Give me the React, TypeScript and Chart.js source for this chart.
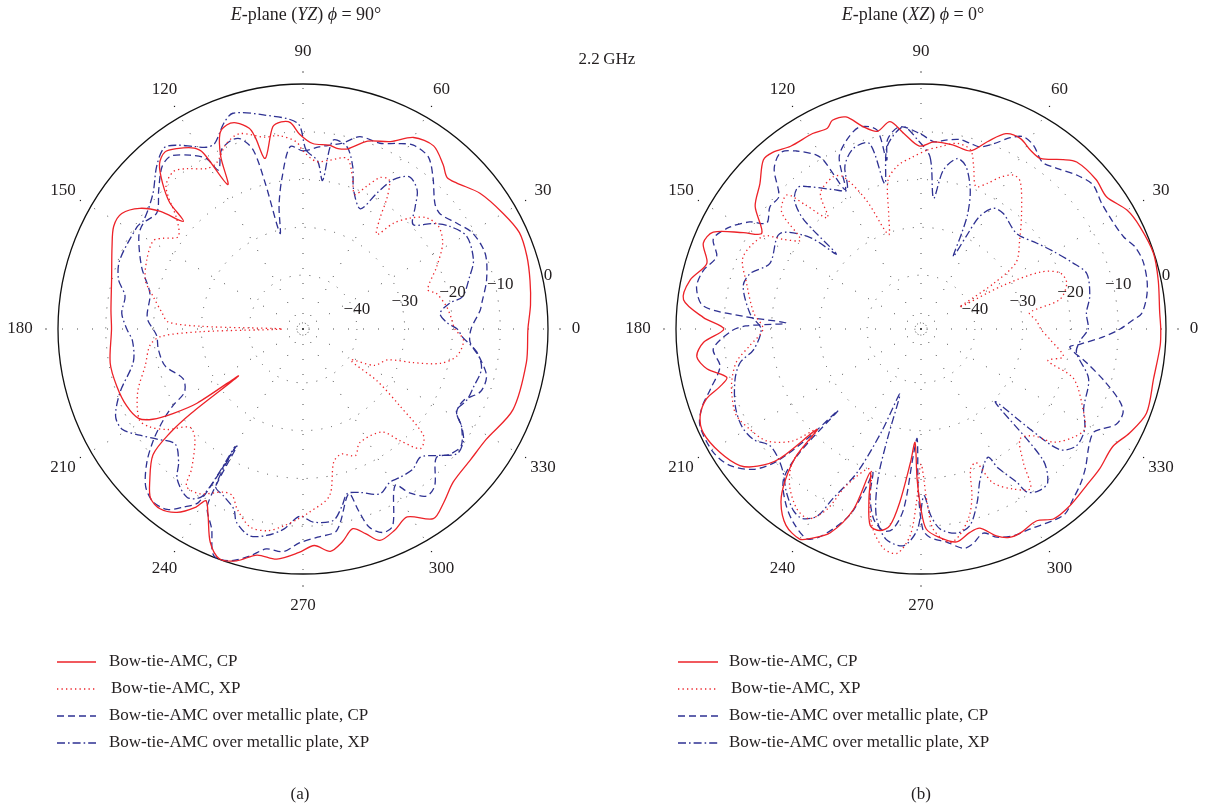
import React, { useEffect, useRef } from 'react';
import { Chart, registerables } from 'chart.js';

Chart.register(...registerables);

const FONT = "'Liberation Serif', 'DejaVu Serif', serif";
const INK = '#231f20';
const RED = 'rgb(237,34,40)';
const BLUE = 'rgb(46,49,146)';
const GRID = '#4a4a4a';

const DB_MIN = -51.28;
const DB_MAX = 0;
const RING_VALUES = [-50, -40, -30, -20, -10, 0];
const RING_LABEL_VALUES = [-40, -30, -20, -10, 0];
const RING_LABELS = ['\u221240', '\u221230', '\u221220', '\u221210', '0'];
const ANGLE_TICKS = [0, 30, 60, 90, 120, 150, 180, 210, 240, 270, 300, 330];
const SERIES_LABELS = [
  'Bow-tie-AMC, CP',
  'Bow-tie-AMC, XP',
  'Bow-tie-AMC over metallic plate, CP',
  'Bow-tie-AMC over metallic plate, XP',
];
const SERIES_COLORS = [RED, RED, BLUE, BLUE];
const SERIES_DASHES = [[], [1.3, 3.2], [7, 4], [8, 3, 1.6, 3]];

const STEP = 0.5;
const N = 720;
const ANGLE_CATEGORIES = Array.from({ length: N }, (_, j) => String(((90 - j * STEP) % 360 + 360) % 360));

// ---- Panel (a): E-plane (YZ), phi = 90 deg. [angle deg, level dB]
const A_CP: [number, number][] = [
  [0, -4.2], [6, -3.4], [12, -2.7], [18, -2.0], [24, -1.7], [30, -2.9], [37.5, -4.6], [43.5, -6.9], [46.5, -7.5],
  [49.5, -6.1], [54.5, -4.2], [60, -5.0], [65, -8.0], [71, -9.7], [76, -12.4], [79, -12.8], [82, -12.4], [87, -12.4],
  [91, -10.5], [93.5, -8.0], [96, -7.7], [98.5, -8.5], [102.5, -14.7], [104, -9.9], [105, -7.8], [108, -5.9],
  [110.5, -5.7], [113, -6.8], [115.5, -11.3], [117.5, -17.2], [119.5, -9.0], [121, -7.1], [125, -5.2], [128, -4.3],
  [131, -5.5], [134, -9.0], [136.5, -12.8], [138, -17.6], [140.5, -12.6], [143.5, -8.8], [147.5, -6.3], [151.5, -6.2],
  [156.5, -7.7], [165.5, -9.9], [174.5, -10.9], [180, -11.2], [190, -10.3], [197, -10.5], [203.5, -11.0],
  [208.5, -12.1], [211, -14.6], [213, -18.8], [215, -24.2], [216, -34.6], [217, -22], [218, -16], [220, -10.3],
  [225, -5.9], [228, -3.6], [231.5, -3.2], [235.5, -4.7], [239, -7.8], [240.5, -10.0], [243, -7.5], [246.5, -2.6],
  [250, -0.1], [254, -0.8], [258.5, -3.0], [263.5, -2.8], [269, -4.5], [273, -5.9], [277, -4.4], [280.5, -6.0],
  [284, -8.2], [287, -6.5], [290, -4.2], [294.5, -5.0], [299, -6.3], [304.5, -3.1], [309, -4.5], [314.5, -6.4],
  [322, -6.8], [329, -6.5], [339, -4.2], [351.5, -4.0],
];
const A_XP: [number, number][] = [
  [0, -19.5], [4.5, -20.2], [9, -20.9], [15, -22.4], [17.5, -23.9], [25, -20.4], [31.5, -17.0], [37, -15.7],
  [42, -16.5], [46, -19.0], [49.5, -22.2], [52, -26.2], [55, -23.4], [57.5, -18.4], [60, -15.2], [63, -15.7],
  [66, -18.6], [69, -21.1], [72, -17.8], [75.5, -14.4], [81, -15.5], [85.5, -16.1], [90, -14], [92, -12.1],
  [97, -10.5], [101.5, -10.3], [108, -8.3], [112.5, -9.3], [117.5, -12.1], [121, -12.1], [126, -9.8], [129.5, -8.6],
  [134, -10.0], [139, -16.3], [143.5, -18.8], [147, -16.4], [149.5, -14.9], [156, -15.5], [163, -16.8], [168, -19.3],
  [173.5, -21.6], [177, -23], [178.5, -30], [180, -47], [181.5, -30], [183, -21.5], [186, -19.1], [193, -17.4],
  [201, -14.2], [209, -12.1], [212.5, -13.2], [216.5, -15.9], [221, -19.9], [225.5, -19.0], [231.5, -13.8],
  [233.5, -10.3], [238, -10.6], [244, -13.3], [247, -13.4], [250, -11.1], [255, -8.4], [260, -8.4], [264.5, -9.9],
  [268.5, -11.5], [272, -12.9], [279, -15.9], [283, -22.7], [287, -23.9], [292.5, -22.6], [296.5, -24.7],
  [307.5, -24.1], [311, -20.3], [314.5, -16.2], [318.5, -17.6], [321.5, -25.3], [325, -32.4], [327, -39.4],
  [333, -34.5], [340, -32.4], [343, -27.2], [346, -21.6], [350, -18.6], [356, -17.6],
];
const A_MCP: [number, number][] = [
  [0, -16.1], [6, -14.0], [8.5, -13.4], [15, -11.5], [22.5, -10.0], [29.5, -10.5], [34.5, -12.2], [40, -13.8],
  [43.5, -13.2], [49.5, -9.4], [54, -6.7], [59, -6.4], [63, -7.7], [67.5, -9.2], [73.5, -9.3], [78, -11.5],
  [85, -13.0], [90, -14.0], [94, -13.0], [98, -19.5], [101, -25], [103.5, -30.7], [104.5, -20], [105.5, -12.5],
  [108, -9.5], [110.5, -9.0], [114.5, -10.1], [118, -13.6], [119.5, -10.3], [123, -7.9], [127.5, -5.7], [131, -6.3],
  [136, -9.3], [141.5, -12.2], [146.5, -11.2], [150.5, -11.8], [159, -15.1], [167, -18.4], [176, -18.6],
  [182.5, -20.6], [188, -20.7], [195, -21.4], [202.5, -24.1], [208, -23.2], [210.5, -19.7], [213, -16.5],
  [216.5, -12.4], [220.5, -8.3], [225, -4.7], [229, -3.4], [233, -4.0], [236, -6.3], [239, -9.1], [240.5, -23.2],
  [241.5, -9.4], [245.5, -5.2], [248.5, -0.3], [252.5, -0.4], [257, -2.6], [260.5, -4.6], [265, -4.5], [269, -6.5],
  [274, -7.6], [279.5, -8.5], [285.5, -15.5], [287, -11.5], [288.5, -7.5], [291.5, -5.5], [294.5, -6.0],
  [300.5, -13.3], [303, -10.4], [306.5, -7.8], [310, -8.4], [316, -12.5], [319.5, -10.9], [323.5, -10.1],
  [328.5, -12.4], [331.5, -14.7], [336, -14.5], [340.5, -11.9], [345.5, -11.6], [350.5, -13.7], [355.5, -16.2],
];
const A_MXP: [number, number][] = [
  [0, -19.0], [2.5, -21.1], [6.5, -22.4], [10, -20.1], [11.5, -17.2], [17.5, -14.7], [22, -12.8], [29.5, -11.9],
  [35, -13.8], [39, -16.2], [43.5, -19.5], [47.5, -16.5], [50.5, -13.7], [55, -12.4], [59, -14.9], [61.5, -19.0],
  [64.5, -23.4], [70, -20.3], [73, -15.7], [76.5, -12.0], [81, -11.3], [82.5, -19.9], [85, -16], [89, -13.8],
  [91.5, -8.2], [100.5, -5.7], [108, -3.8], [111, -5.1], [115.5, -8.3], [118, -8.2], [121, -6.7], [124.5, -4.6],
  [127.5, -3.5], [132, -5.5], [138, -9.0], [145.5, -10.9], [148.5, -10.5], [159.5, -10.3], [165, -11.3],
  [169.5, -13.4], [175, -13.2], [180, -14.4], [184, -15.5], [191, -15.1], [199, -10.8], [205, -8.0], [209, -8.0],
  [213, -10.5], [217, -13.0], [222, -15.3], [227, -13.1], [230, -10.3], [235.5, -8.5], [239, -10.5], [240, -22.8],
  [241, -13.6], [244.5, -12.6], [249, -10.9], [251, -8.5], [255.5, -6.6], [260, -7.4], [264.5, -9.2], [269, -12.1],
  [273, -10.8], [279, -10.7], [282.5, -13.4], [285, -15.6], [289, -15.1], [295, -13.2], [299.5, -14.4],
  [303, -14.2], [308, -14.0], [312.5, -14.9], [316.5, -12.8], [321, -9.8], [325, -10.3], [328, -12.0], [332, -14.9],
  [336.5, -13.9], [341, -13.6], [347.5, -13.0], [352.5, -14.6], [357, -17.8],
];

// ---- Panel (b): E-plane (XZ), phi = 0 deg.
const B_CP: [number, number][] = [
  [0, -1.1], [4, -1.2], [11.5, -0.6], [18, -0.1], [25, -0.7], [30, -1.5], [35.5, -3.6], [40.5, -3.1], [47, -3.5],
  [50, -5.0], [55, -7.7], [58.5, -7.4], [62.5, -6.3], [66.5, -6.7], [70.5, -9.7], [74.5, -12.6], [80, -12.2],
  [86, -12.0], [90.5, -13.0], [95, -10.2], [98.5, -7.4], [102.5, -8.9], [106, -7.2], [109.5, -4.2], [113, -3.8],
  [115, -4.9], [119, -4.5], [125.5, -4.3], [130, -3.0], [133, -2.9], [138, -5.9], [143.5, -8.1], [149, -12.4],
  [151.5, -9.0], [155, -3.3], [158.5, -2.3], [163, -4.4], [168, -1.9], [173, -1.2], [177, -5.7], [180, -10.0],
  [183.5, -5.7], [187, -4.0], [190.5, -5.7], [194, -9.4], [196, -7.5], [198, -4.1], [201.5, -1.6], [205.5, -0.8],
  [211.5, -1.9], [217, -3.8], [220, -6.6], [222.5, -11.1], [224, -21.0], [225.5, -14.1], [228, -8.9], [231, -4.7],
  [235.5, -1.4], [240, -0.5], [242, -1.6], [246, -4.6], [249.5, -11.0], [250.5, -19.4], [253, -14.0], [255.5, -8.8],
  [258.5, -8.2], [261, -9.6], [263, -14.7], [265.5, -23.3], [267, -27.5], [268.5, -19.9], [270, -13.6],
  [271.5, -9.4], [275, -7.5], [279.5, -6.1], [283.5, -7.5], [286.5, -7.8], [290, -5.2], [293, -3.9], [296, -3.8],
  [301, -4.4], [305, -2.8], [310, -2.9], [316.5, -3.6], [322, -3.8], [328.5, -4.2], [333.5, -2.5], [339.5, -0.9],
  [348, -1.5], [356, -1.1],
];
const B_XP: [number, number][] = [
  [0, -26.2], [4, -27], [8.5, -28.3], [12, -21.6], [17.5, -19.3], [22, -19.9], [25.5, -23.6], [28, -32],
  [29.5, -42], [32, -33.5], [35, -27], [42, -23.5], [49, -19.2], [56, -14.1], [59, -13.7], [62.5, -15.5],
  [65.5, -17.8], [69, -19.3], [72, -15.6], [74.5, -12.4], [79, -11.7], [84, -12.9], [88, -13.8], [93, -15.3],
  [98, -16.7], [102.5, -19.4], [106, -26.8], [109, -30.4], [113, -22], [117, -15.5], [120, -14.5], [126.5, -15.9],
  [130, -20.9], [133, -15.7], [135, -11.6], [140, -13.2], [143.5, -19.9], [147, -16.8], [149.5, -13.0],
  [158, -11.1], [165.5, -13.6], [174.5, -16.1], [180, -18.2], [185.5, -15.3], [190, -12.1], [195, -10.3],
  [199.5, -9.3], [205, -8.6], [210.5, -9.8], [216, -11.4], [221, -15.5], [224, -21.0], [226, -12.6], [230, -8.5],
  [235.5, -5.5], [239.5, -5.2], [242.5, -8.8], [244.5, -15.0], [250, -20.1], [253.5, -13.5], [256.5, -8.2],
  [260.5, -4.6], [264, -4.1], [267, -8.0], [268.5, -15.0], [270, -23.0], [272, -15.0], [273.5, -9.3], [277.5, -6.2],
  [280.5, -7.3], [284.5, -10.9], [287, -14.8], [289.5, -20.2], [292.5, -21.0], [295, -15.8], [300, -12.6],
  [304.5, -10.8], [307.5, -16.1], [312, -20.3], [316.5, -18.8], [319.5, -14.8], [324.5, -12.2], [328.5, -11.1],
  [333, -13.1], [342, -17.7], [346, -23.9], [349, -20.9], [355, -24],
];
const B_MCP: [number, number][] = [
  [0, -9.6], [2.5, -6.8], [4, -5.0], [8, -3.6], [12, -2.9], [17, -2.7], [21, -3.3], [24.5, -4.7], [29.5, -5.3],
  [35, -5.2], [40, -4.3], [44.5, -5.4], [50, -7.3], [54, -8.1], [58.5, -6.2], [62, -5.7], [65, -7.1], [68.5, -9.6],
  [72, -11.2], [75, -11.1], [78.5, -10.8], [82.5, -11.4], [86, -12.0], [90, -10.5], [96, -8.7], [100, -11],
  [101.5, -15.2], [102.5, -8.6], [107, -7.1], [111.5, -8.8], [115.5, -11.5], [118.5, -18.1], [120, -10.5],
  [121, -8.8], [125, -5.8], [128.5, -4.1], [132.5, -5.8], [137, -10.6], [141, -10.6], [145.5, -12.1], [148, -9.0],
  [152, -5.9], [156.5, -3.9], [160.5, -5.9], [165, -4.1], [169.5, -3.5], [174, -5.5], [176, -14.6], [177.5, -23.0],
  [179, -14.6], [180.5, -11.7], [185.5, -7.6], [190.5, -8.5], [196, -5.4], [199.5, -2.7], [203.5, -0.8],
  [210.5, -0.7], [215.5, -2.1], [220, -5.6], [222.5, -10.2], [224, -18.6], [224.5, -27.0], [225.5, -15.1],
  [227.5, -8.7], [232, -5.2], [236.5, -2.8], [241.5, -1.3], [244.5, -3.4], [249, -9.5], [251, -16.6],
  [251.5, -19.6], [253, -14.8], [256, -10.3], [259.5, -8.3], [262, -9.0], [264.5, -13.4], [266.5, -24.7],
  [268, -28.3], [269, -17.8], [270.5, -9.4], [272.5, -7.6], [277, -6.3], [281, -4.5], [283.5, -5.0], [287, -6.6],
  [290, -4.9], [294, -3.9], [298.5, -3.6], [307.5, -2.2], [312, -3.6], [316, -4.8], [320, -6.3], [325, -8.4],
  [329, -9.2], [331, -8.1], [334, -5.8], [337.5, -5.5], [340, -7.0], [344, -11.2], [348.5, -15.9], [353, -19.9],
  [354.5, -17.9], [357.5, -13.1],
];
const B_MXP: [number, number][] = [
  [0, -16.3], [5.5, -16.5], [11, -15.3], [18.5, -14.7], [23.5, -16.6], [30.5, -19.2], [36.5, -21.1], [45, -23.0],
  [54.5, -21.6], [59, -21.8], [62.5, -24.7], [64, -29.7], [66, -34.7], [67, -29.4], [68, -25.1], [70.5, -20.4],
  [74.5, -16.0], [78, -14.8], [82, -17.7], [84.5, -23.8], [87, -15.2], [91, -11.7], [95, -8.8], [100.5, -12.4],
  [104, -19.9], [105.5, -11.0], [110.5, -10.9], [115, -13.6], [118, -18.3], [122, -16.9], [128, -13.5],
  [131, -12.0], [134.5, -13.5], [137, -17.7], [138.5, -27.6], [140.5, -21.1], [146, -15.6], [156.5, -16.8],
  [162, -13.7], [166.5, -13.0], [175, -15.4], [180, -17.8], [187, -16.0], [190.5, -12.8], [195, -11.0],
  [202.5, -9.2], [208.5, -8.6], [213.5, -9.3], [217.5, -11.3], [221.5, -11.1], [226, -9.7], [230.5, -7.0],
  [235, -4.8], [238, -4.5], [241, -6.5], [242.5, -11.2], [246, -18.4], [249, -28.3], [252, -37.0], [253, -27.2],
  [254, -18.6], [256.5, -11.1], [260.5, -6.7], [265.5, -5.8], [269, -9.4], [271, -16.4], [273, -12.2],
  [275.5, -9.2], [280, -7.9], [284, -8.9], [288, -13.2], [291.5, -17.5], [297.5, -21.0], [299, -18.0], [302, -13.5],
  [303, -10.6], [306, -9.4], [309.5, -9.6], [313, -13.9], [315.5, -29.5], [317.5, -19.9], [319, -12.8],
  [323, -10.6], [328.5, -11.1], [334, -13.4], [343.5, -14.7], [351.5, -18.4], [356, -17.8],
];

type TitlePart = [string, boolean];

const PANELS = [
  {
    key: 'a', left: 0, width: 650, cx: 303, cy: 329, titleX: 306,
    title: [['E', true], ['-plane (', false], ['YZ', true], [') ', false], ['\u03D5', true], [' = 90\u00B0', false]] as TitlePart[],
    series: [A_CP, A_XP, A_MCP, A_MXP], note: '2.2\u2009GHz', noteX: 607, noteY: 60,
    legendLine: [57, 96], legendText: 109, caption: '(a)', captionX: 300,
  },
  {
    key: 'b', left: 606, width: 605, cx: 921, cy: 329, titleX: 913,
    title: [['E', true], ['-plane (', false], ['XZ', true], [') ', false], ['\u03D5', true], [' = 0\u00B0', false]] as TitlePart[],
    series: [B_CP, B_XP, B_MCP, B_MXP], note: '', noteX: 0, noteY: 0,
    legendLine: [678, 718], legendText: 729, caption: '(b)', captionX: 921,
  },
];
const LEGEND_ROWS = [662, 689, 716, 743];
const RADIUS = 245;

function toRadar(points: [number, number][]) {
  const arr: (number | null)[] = new Array(N).fill(null);
  for (const [deg, db] of points) {
    const j = Math.round((((90 - deg) % 360) + 360) % 360 / STEP) % N;
    arr[j] = db;
  }
  return arr;
}

function angleIndex(a: number) {
  return Math.round((((90 - a) % 360) + 360) % 360 / STEP) % N;
}

function PolarPanel({ panel }: { panel: (typeof PANELS)[number] }) {
  const ref = useRef<HTMLCanvasElement>(null);
  useEffect(() => {
    const H = 807;
    const lx = panel.cx - panel.left;
    const pad = {
      left: lx - RADIUS,
      right: panel.width - (lx + RADIUS),
      top: panel.cy - RADIUS,
      bottom: H - (panel.cy + RADIUS),
    };
    const off = panel.left;
    const decor = {
      id: 'polarDecor',
      afterDraw(chart: any) {
        const ctx = chart.ctx as CanvasRenderingContext2D;
        const s: any = chart.scales.r;
        ctx.save();
        ctx.fillStyle = INK;
        ctx.font = `17px ${FONT}`;
        ctx.textAlign = 'center';
        ctx.textBaseline = 'middle';
        for (const a of ANGLE_TICKS) {
          const dist = s.drawingArea + 32 + (a === 0 ? -4 : a === 180 ? 6 : 0);
          const p = s.getPointPosition(angleIndex(a), dist);
          ctx.fillText(String(a), p.x, p.y);
          const q = s.getPointPosition(angleIndex(a), s.drawingArea + 12);
          ctx.fillRect(q.x - 0.6, q.y - 0.6, 1.2, 1.2);
        }
        RING_LABEL_VALUES.forEach((v, i) => {
          const d = s.getDistanceFromCenterForValue(v);
          ctx.fillText(RING_LABELS[i], s.xCenter + d, s.yCenter - (9.3 + 0.18 * d));
        });
        // title
        ctx.textAlign = 'left';
        let total = 0;
        const widths: number[] = [];
        for (const [t, it] of panel.title) {
          ctx.font = `${it ? 'italic ' : ''}18px ${FONT}`;
          const w = ctx.measureText(t).width;
          widths.push(w);
          total += w;
        }
        let x = panel.titleX - off - total / 2;
        panel.title.forEach(([t, it], i) => {
          ctx.font = `${it ? 'italic ' : ''}18px ${FONT}`;
          ctx.fillText(t, x, 15);
          x += widths[i];
        });
        ctx.font = `17px ${FONT}`;
        if (panel.note) {
          ctx.textAlign = 'center';
          ctx.fillText(panel.note, panel.noteX - off, panel.noteY);
        }
        // legend
        LEGEND_ROWS.forEach((y, i) => {
          ctx.save();
          ctx.strokeStyle = SERIES_COLORS[i];
          ctx.lineWidth = 1.3;
          ctx.setLineDash(SERIES_DASHES[i]);
          ctx.beginPath();
          ctx.moveTo(panel.legendLine[0] - off, y);
          ctx.lineTo(panel.legendLine[1] - off, y);
          ctx.stroke();
          ctx.restore();
          ctx.textAlign = 'left';
          ctx.fillText(SERIES_LABELS[i], panel.legendText - off + (i === 1 ? 2 : 0), y);
        });
        ctx.textAlign = 'center';
        ctx.fillText(panel.caption, panel.captionX - off, 795);
        ctx.restore();
      },
    };
    const chart = new Chart(ref.current as HTMLCanvasElement, {
      type: 'radar',
      data: {
        labels: ANGLE_CATEGORIES,
        datasets: panel.series.map((pts, i) => ({
          label: SERIES_LABELS[i],
          data: toRadar(pts),
          borderColor: SERIES_COLORS[i],
          backgroundColor: 'rgba(0,0,0,0)',
          borderWidth: 1.3,
          borderDash: SERIES_DASHES[i],
          fill: false,
          spanGaps: true,
          tension: 0.3,
          pointRadius: 0,
          pointHoverRadius: 0,
        })),
      },
      options: {
        responsive: false,
        animation: false,
        events: [],
        layout: { padding: pad },
        plugins: { legend: { display: false }, title: { display: false }, tooltip: { enabled: false } },
        scales: {
          r: {
            min: DB_MIN,
            max: DB_MAX,
            startAngle: 0,
            afterBuildTicks: (sc: any) => {
              sc.ticks = RING_VALUES.map((v) => ({ value: v }));
            },
            ticks: { display: false },
            pointLabels: { display: false },
            grid: {
              circular: true,
              color: (c: any) => (c.tick && c.tick.value === 0 ? '#111' : GRID),
              lineWidth: (c: any) => (c.tick && c.tick.value === 0 ? 1.3 : 1),
            },
            border: {
              dash: (c: any) => (c.tick && c.tick.value === 0 ? [] : c.tick && c.tick.value === -50 ? [1, 2] : [1, 9]),
            },
            angleLines: {
              color: GRID,
              lineWidth: (c: any) => (c.index % 60 === 0 ? 1 : 0),
              borderDash: [1, 14],
            },
          },
        },
      } as any,
      plugins: [decor],
    });
    return () => chart.destroy();
  }, []);
  return (
    <canvas
      ref={ref}
      width={panel.width}
      height={807}
      style={{ position: 'absolute', left: panel.left, top: 0, width: panel.width, height: 807 }}
    />
  );
}

export default function App() {
  return (
    <div style={{ position: 'fixed', left: 0, top: 0, width: 1211, height: 807, background: '#fff', overflow: 'hidden' }}>
      {PANELS.map((p) => (
        <PolarPanel key={p.key} panel={p} />
      ))}
    </div>
  );
}
